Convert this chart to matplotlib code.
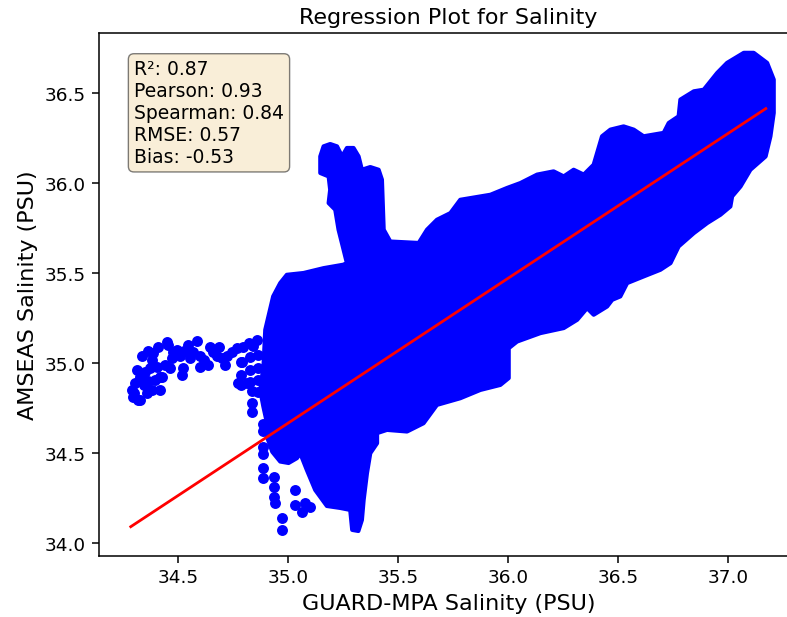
import numpy as np
import matplotlib
matplotlib.use('Agg')
import matplotlib.pyplot as plt

# outline of the dense point cloud (GUARD-MPA, AMSEAS)
blob_x = [34.897, 34.933, 34.965, 34.995, 35.071, 35.162, 35.251, 35.268, 35.253, 35.230,
          35.215, 35.185, 35.192, 35.185, 35.147, 35.147, 35.162, 35.192, 35.223, 35.246,
          35.268, 35.298, 35.321, 35.336, 35.374, 35.412, 35.427, 35.435, 35.465, 35.594,
          35.632, 35.677, 35.738, 35.783, 35.920, 35.996, 36.056, 36.132, 36.207, 36.253,
          36.298, 36.344, 36.389, 36.427, 36.465, 36.525, 36.571, 36.616, 36.707, 36.730,
          36.775, 36.783, 36.844, 36.889, 36.950, 36.995, 37.071, 37.116, 37.177, 37.207,
          37.207, 37.192, 37.170, 37.101, 37.056, 37.018, 37.010, 36.965, 36.905, 36.844,
          36.775, 36.738, 36.692, 36.616, 36.541, 36.510, 36.473, 36.450, 36.389, 36.359,
          36.314, 36.253, 36.147, 36.041, 36.003, 36.003, 35.965, 35.874, 35.783, 35.677,
          35.616, 35.541, 35.450, 35.405, 35.405, 35.374, 35.359, 35.344, 35.336, 35.320,
          35.292, 35.283, 35.238, 35.177, 35.124, 35.086, 35.056, 35.041, 35.003, 34.965,
          34.929, 34.905, 34.905, 34.888, 34.874, 34.889]
blob_y = [35.185, 35.371, 35.445, 35.491, 35.501, 35.528, 35.547, 35.556, 35.630, 35.742,
          35.853, 35.890, 35.964, 36.038, 36.057, 36.149, 36.205, 36.218, 36.205, 36.149,
          36.196, 36.196, 36.149, 36.075, 36.090, 36.075, 36.020, 35.742, 35.676, 35.668,
          35.742, 35.797, 35.834, 35.908, 35.936, 35.974, 36.001, 36.048, 36.066, 36.038,
          36.075, 36.048, 36.103, 36.261, 36.298, 36.316, 36.298, 36.261, 36.280, 36.335,
          36.372, 36.465, 36.511, 36.520, 36.613, 36.669, 36.725, 36.725, 36.669, 36.576,
          36.391, 36.261, 36.149, 36.075, 35.982, 35.927, 35.871, 35.825, 35.779, 35.723,
          35.649, 35.556, 35.519, 35.482, 35.445, 35.371, 35.352, 35.315, 35.269, 35.306,
          35.241, 35.195, 35.167, 35.120, 35.083, 34.917, 34.879, 34.851, 34.805, 34.768,
          34.666, 34.620, 34.629, 34.611, 34.555, 34.499, 34.388, 34.240, 34.128, 34.067,
          34.073, 34.184, 34.195, 34.206, 34.295, 34.406, 34.499, 34.472, 34.445, 34.453,
          34.507, 34.590, 34.666, 34.761, 34.851, 34.981]

# low-salinity tail on the left
tail_x = [34.291, 34.321, 34.306, 34.314, 34.336, 34.366, 34.412, 34.450, 34.374, 34.420,
          34.420, 34.359, 34.344, 34.473, 34.510, 34.518, 34.548, 34.586, 34.556, 34.601,
          34.639, 34.647, 34.685, 34.677, 34.723, 34.715, 34.768, 34.821, 34.859, 34.495,
          34.525, 34.601, 34.465, 34.298, 34.329, 34.389, 34.457, 34.405, 34.427, 34.382,
          34.383, 34.397, 34.442, 34.351, 34.330, 34.480, 34.530, 34.570, 34.620, 34.660,
          34.700, 34.745, 34.795, 34.840, 34.365, 34.300]
tail_y = [34.851, 34.796, 34.889, 34.963, 35.037, 35.065, 35.092, 35.120, 34.972, 34.925,
          34.851, 34.833, 34.879, 35.028, 35.037, 34.935, 35.102, 35.124, 35.028, 35.037,
          34.991, 35.092, 35.092, 35.037, 35.037, 34.991, 35.083, 35.111, 35.130, 35.074,
          34.972, 34.981, 34.972, 34.814, 34.796, 35.056, 35.102, 34.981, 34.925, 34.851,
          35.018, 34.907, 34.991, 34.953, 34.925, 35.060, 35.070, 35.060, 35.015, 35.060,
          35.030, 35.060, 35.090, 35.095, 34.900, 34.835]

# stray points near 35 PSU
stray_x = [34.788, 34.788, 34.788, 34.829, 34.829, 34.829, 34.865, 34.865, 34.865, 34.865,
           34.775, 34.814, 34.791, 34.836, 34.836, 34.836, 34.885, 34.885, 34.889, 34.889,
           34.889, 34.889, 34.935, 34.935, 34.935, 34.942, 34.973, 34.973, 35.033, 35.033,
           35.064, 35.101, 35.079]
stray_y = [35.007, 34.935, 34.879, 35.035, 34.963, 34.896, 35.046, 34.974, 34.907, 34.840,
           34.889, 34.889, 35.009, 34.846, 34.779, 34.729, 34.662, 34.623, 34.536, 34.495,
           34.416, 34.360, 34.369, 34.314, 34.258, 34.221, 34.138, 34.073, 34.295, 34.212,
           34.174, 34.202, 34.221]

# regression fit
fit_slope = 0.8056
fit_intercept = 6.470
fit_range = [34.286, 37.171]

stats_text = '\n'.join([
    'R²: 0.87',
    'Pearson: 0.93',
    'Spearman: 0.84',
    'RMSE: 0.57',
    'Bias: -0.53',
])

fig = plt.figure(figsize=(7.875, 6.175), dpi=100)
ax = fig.add_axes([0.1258, 0.0994, 0.8869, 0.8460])

# dense cloud drawn as its outline, rounded edge to look like overlapping dots
ax.fill(blob_x, blob_y, facecolor='blue', edgecolor='blue', lw=3,
        joinstyle='round', zorder=2)
ax.scatter(tail_x, tail_y, s=62, color='blue', linewidths=0, zorder=2)
ax.scatter(stray_x, stray_y, s=62, color='blue', linewidths=0, zorder=2)

xl = np.array(fit_range)
ax.plot(xl, fit_slope * xl + fit_intercept, color='red', lw=2, zorder=3)

ax.set_xlim(34.142, 37.315)
ax.set_ylim(33.93, 36.834)

ax.set_title('Regression Plot for Salinity', fontsize=16, pad=7)
ax.set_xlabel('GUARD-MPA Salinity (PSU)', fontsize=16, labelpad=5)
ax.set_ylabel('AMSEAS Salinity (PSU)', fontsize=16, labelpad=5)
ax.tick_params(labelsize=13.3, length=4.7, width=1.1, pad=4.7)
for sp in ax.spines.values():
    sp.set_linewidth(1.1)
ax.spines['right'].set_visible(False)

props = dict(boxstyle='round', facecolor='wheat', alpha=0.5)
ax.text(0.05, 0.95, stats_text, transform=ax.transAxes, fontsize=13.5,
        va='top', bbox=props, zorder=5)

fig.savefig('out.png', dpi=100)
